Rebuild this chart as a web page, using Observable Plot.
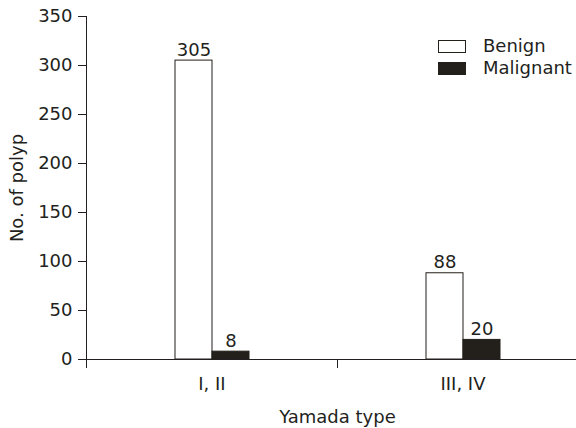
<!DOCTYPE html>
<html><head>
<meta charset="utf-8">
<script src="https://cdn.jsdelivr.net/npm/d3@7"></script>
<script src="https://cdn.jsdelivr.net/npm/@observablehq/plot@0.6"></script>
<style>
body{margin:0;background:#fff;}
#chart{position:relative;width:576px;height:428px;overflow:hidden;font-family:"DejaVu Sans",sans-serif;color:#231f20;}
.lg-box{position:absolute;width:26px;height:11px;border:1px solid #231f1a;}
.lg-txt{position:absolute;font-size:18px;line-height:18px;white-space:nowrap;}
</style>
</head><body>
<div id="chart"></div>
<script>
const types = ["I, II", "III, IV"];
const series = ["Benign", "Malignant"];
const benign = [305, 88];
const malignant = [8, 20];
const yTicks = [0, 50, 100, 150, 200, 250, 300, 350];
const colors = ["#ffffff", "#231f1a"];

const data = types.flatMap((t, i) => [
  {type: t, series: series[0], value: benign[i]},
  {type: t, series: series[1], value: malignant[i]}
]);

const plot = Plot.plot({
  width: 576, height: 428,
  marginLeft: 86, marginRight: -12, marginTop: 16, marginBottom: 69,
  style: {fontFamily: '"DejaVu Sans", sans-serif', fontSize: "18px", color: "#231f20", background: "#fff", overflow: "hidden"},
  fx: {domain: types, padding: 0},
  x: {domain: series, paddingInner: 0, paddingOuter: 2.35, axis: null},
  y: {domain: [0, 350], ticks: yTicks, tickSize: 8, tickPadding: 6, line: true, label: "No. of polyp", labelAnchor: "center", labelOffset: 76, labelArrow: "none"},
  color: {domain: series, range: colors},
  marks: [
    Plot.barY(data, {fx: "type", x: "series", y: "value", fill: "series", stroke: "#231f1a", strokeWidth: 1}),
    Plot.text(data, {fx: "type", x: "series", y: "value", text: d => String(d.value), lineAnchor: "bottom", dy: -5, fill: "#231f20"}),
    Plot.ruleY([0], {stroke: "#231f20", strokeWidth: 1}),
    Plot.axisFx({anchor: "bottom", tickSize: 0, tickPadding: 18, label: "Yamada type", labelAnchor: "center", labelOffset: 63, labelArrow: "none"}),
    Plot.axisFx({anchor: "bottom", tickSize: 9, tickFormat: () => "", dx: -125.5, label: null})
  ]
});
const chart = document.getElementById("chart");
chart.appendChild(plot);

const legendTop = [40, 62];
series.forEach((s, i) => {
  const b = document.createElement("div");
  b.className = "lg-box";
  b.style.left = "438px"; b.style.top = legendTop[i] + "px";
  b.style.background = colors[i];
  chart.appendChild(b);
  const t = document.createElement("div");
  t.className = "lg-txt";
  t.style.left = "483px"; t.style.top = (legendTop[i] - 3) + "px";
  t.textContent = s;
  chart.appendChild(t);
});
</script>
</body></html>
